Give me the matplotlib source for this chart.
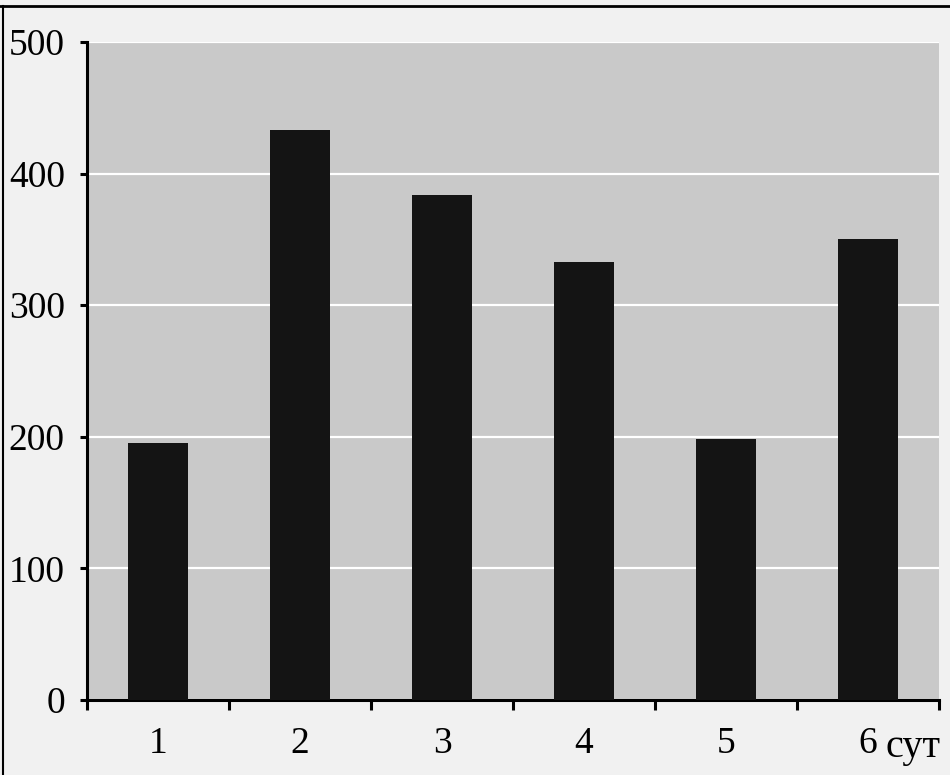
import numpy as np
import matplotlib.pyplot as plt
from matplotlib.lines import Line2D

days = ['1', '2', '3', '4', '5', '6']
values = [195, 433, 384, 333, 198, 350]
y_ticks = [0, 100, 200, 300, 400, 500]

plt.rcParams['font.family'] = ['Liberation Serif', 'DejaVu Serif']

fig = plt.figure(figsize=(9.5, 7.75), dpi=100, facecolor='#f1f1f1')
ax = fig.add_axes([0.0916, 0.0968, 0.8968, 0.849])
ax.set_facecolor('#c9c9c9')

x = np.arange(len(days)) + 0.5
ax.bar(x, values, width=0.42, color='#141414', zorder=3)

ax.set_xlim(0, len(days))
ax.set_ylim(0, 500)
ax.set_yticks(y_ticks)
ax.set_yticklabels([str(v) for v in y_ticks])
ax.yaxis.grid(True, color='white', linewidth=1.6, zorder=1)
ax.set_axisbelow(True)

# category edges get ticks, centres get labels
ax.set_xticks(np.arange(len(days) + 1))
ax.set_xticklabels([])
ax.set_xticks(x, minor=True)
ax.set_xticklabels(days, minor=True)
ax.tick_params(axis='x', which='major', direction='out', length=7, width=2.2)
ax.tick_params(axis='x', which='minor', length=0, pad=19, labelsize=27)
ax.tick_params(axis='y', direction='out', length=5, width=2.2, pad=11, labelsize=27)

for s in ['top', 'right']:
    ax.spines[s].set_visible(False)
for s in ['left', 'bottom']:
    ax.spines[s].set_linewidth(2.2)

ax.text(5.62, -0.0866, 'сут', transform=ax.get_xaxis_transform(),
        ha='left', va='baseline', fontsize=29)

# frame of the scanned page
fig.add_artist(Line2D([0, 1], [0.992, 0.992], color='black', linewidth=2, transform=fig.transFigure))
fig.add_artist(Line2D([0.003, 0.003], [0, 0.992], color='black', linewidth=1.5, transform=fig.transFigure))

fig.savefig('out.png', dpi=100, facecolor=fig.get_facecolor())
